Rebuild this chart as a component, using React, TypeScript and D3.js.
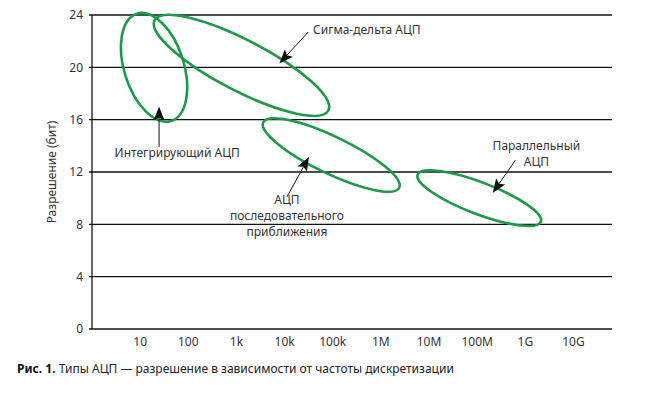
import * as d3 from "d3";

const width = 657,
  height = 393,
  marginLeft = 92,
  marginRight = 45,
  marginTop = 15,
  marginBottom = 64;

// x ticks (Hz) and their labels
const freqTicks = [1e1, 1e2, 1e3, 1e4, 1e5, 1e6, 1e7, 1e8, 1e9, 1e10];
const freqLabels = ["10", "100", "1k", "10k", "100k", "1M", "10M", "100M", "1G", "10G"];
const bitTicks = [0, 4, 8, 12, 16, 20, 24];

// ADC regions: major axis ends (freq, bits) + minor/major ratio
const adcNames = ["integrating", "sigmaDelta", "sar", "flash"];
const adcStart = [
  [8.6, 24.1],
  [20, 23.6],
  [3600, 15.8],
  [5.8e6, 11.8],
];
const adcEnd = [
  [44, 15.9],
  [81000, 16.7],
  [2.4e6, 10.8],
  [2.1e9, 8.2],
];
const adcRatio = [0.53, 0.26, 0.245, 0.24];

// callouts: arrow tail -> tip, label anchor
const arrowFrom = [
  [24.7, 13.9],
  [31000, 22.7],
  [11200, 10.1],
  [6.2e8, 12.9],
];
const arrowTo = [
  [24.7, 17.0],
  [7800, 20.3],
  [32000, 13.15],
  [2.1e8, 10.4],
];
const labelAt = [
  [59, 13.46],
  [39000, 22.86],
  [11200, 9.86],
  [1.7e9, 14.0],
];
const labelLines = [
  ["Интегрирующий АЦП"],
  ["Сигма-дельта АЦП"],
  ["АЦП", "последовательного", "приближения"],
  ["Параллельный", "АЦП"],
];
const labelAnchor = ["middle", "start", "middle", "middle"];

const green = "#1b9a4b";
const font = "'Noto Sans', 'DejaVu Sans', sans-serif";

export default function App() {
  const x = d3.scaleLog([1, Math.pow(10, 10.8)], [marginLeft, width - marginRight]);
  const y = d3.scaleLinear([0, 24], [height - marginBottom, marginTop]);

  const ellipses = adcNames.map((name, i) => {
    const x1 = x(adcStart[i][0]),
      y1 = y(adcStart[i][1]);
    const x2 = x(adcEnd[i][0]),
      y2 = y(adcEnd[i][1]);
    const cx = (x1 + x2) / 2,
      cy = (y1 + y2) / 2;
    const a = Math.hypot(x2 - x1, y2 - y1) / 2;
    const angle = (Math.atan2(y2 - y1, x2 - x1) * 180) / Math.PI;
    return { name, cx, cy, a, b: a * adcRatio[i], angle };
  });

  const arrows = arrowFrom.map((f, i) => {
    const x1 = x(f[0]),
      y1 = y(f[1]);
    const x2 = x(arrowTo[i][0]),
      y2 = y(arrowTo[i][1]);
    const len = Math.hypot(x2 - x1, y2 - y1);
    const ux = (x2 - x1) / len,
      uy = (y2 - y1) / len;
    const hl = 14,
      hw = 5.5;
    const bx = x2 - ux * hl,
      by = y2 - uy * hl;
    // slightly notched arrowhead
    const nx = x2 - ux * hl * 0.8,
      ny = y2 - uy * hl * 0.8;
    const head = [
      [x2, y2],
      [bx - uy * hw, by + ux * hw],
      [nx, ny],
      [bx + uy * hw, by - ux * hw],
    ];
    return { x1, y1, nx, ny, head };
  });

  return (
    <svg
      width={width}
      height={height}
      style={{ position: "absolute", left: 0, top: 0, background: "#fff" }}
      fontFamily={font}
    >
      {/* gridlines */}
      <g stroke="#111" strokeWidth={1.3}>
        {bitTicks.map((t) => (
          <line key={t} x1={marginLeft - 3} x2={width - marginRight} y1={y(t)} y2={y(t)} />
        ))}
        <line x1={marginLeft} x2={marginLeft} y1={y(24)} y2={y(0)} />
      </g>
      <g fontSize={12} fill="#333" textAnchor="end">
        {bitTicks.map((t) => (
          <text key={t} x={marginLeft - 9} y={y(t)} dy="0.35em">
            {t}
          </text>
        ))}
      </g>
      <g fontSize={12} fill="#333" textAnchor="middle">
        {freqTicks.map((f, i) => (
          <text key={f} x={x(f)} y={height - marginBottom + 17}>
            {freqLabels[i]}
          </text>
        ))}
      </g>
      <text
        transform={`translate(52, ${y(12)}) rotate(-90)`}
        textAnchor="middle"
        dy="0.35em"
        fontSize={12}
        fill="#333"
      >
        Разрешение (бит)
      </text>

      {/* ADC regions */}
      <g fill="none" stroke={green} strokeWidth={2.6}>
        {ellipses.map((e) => (
          <ellipse
            key={e.name}
            cx={e.cx}
            cy={e.cy}
            rx={e.a}
            ry={e.b}
            transform={`rotate(${e.angle} ${e.cx} ${e.cy})`}
          />
        ))}
      </g>

      {/* callouts */}
      <g>
        {arrows.map((a, i) => (
          <g key={i}>
            <line x1={a.x1} y1={a.y1} x2={a.nx} y2={a.ny} stroke="#111" strokeWidth={1} />
            <polygon points={a.head.map((p) => p.join(",")).join(" ")} fill="#111" />
          </g>
        ))}
      </g>
      <g fontSize={12} fill="#333">
        {labelLines.map((lines, i) => (
          <text key={i} y={y(labelAt[i][1])} textAnchor={labelAnchor[i]}>
            {lines.map((l, j) => (
              <tspan key={j} x={x(labelAt[i][0])} dy={j === 0 ? "0.35em" : 16}>
                {l}
              </tspan>
            ))}
          </text>
        ))}
      </g>

      {/* caption */}
      <text x={17} y={373} fontSize={12} fill="#222">
        <tspan fontWeight="bold" fill="#111">
          Рис. 1.
        </tspan>
        <tspan> Типы АЦП — разрешение в зависимости от частоты дискретизации</tspan>
      </text>
    </svg>
  );
}
